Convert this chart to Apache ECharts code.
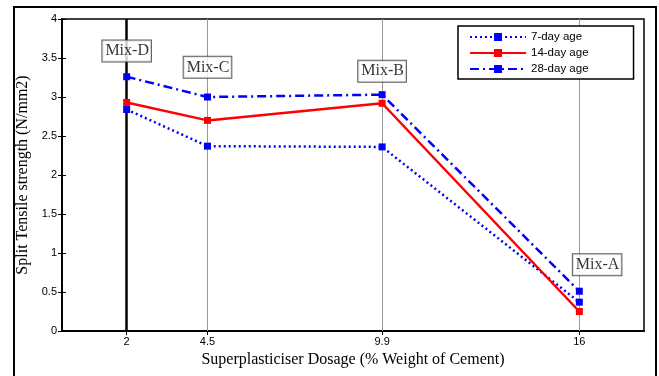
<!DOCTYPE html>
<html><head><meta charset="utf-8">
<script src="https://cdn.jsdelivr.net/npm/echarts@6/dist/echarts.min.js"></script>
<style>html,body{margin:0;padding:0;background:#fff}#c{width:659px;height:376px}</style>
</head><body><div id="c"></div>
<script>
const dosage = [2, 4.5, 9.9, 16];
const day7 = [2.84, 2.37, 2.36, 0.37];
const day14 = [2.93, 2.70, 2.92, 0.25];
const day28 = [3.26, 3.00, 3.03, 0.51];
const seriesNames = ['7-day age', '14-day age', '28-day age'];
const mixLabels = ['Mix-D', 'Mix-C', 'Mix-B', 'Mix-A'];
const mixLabelX = [2, 4.5, 9.9, 16.55];
const mixLabelY = [3.59, 3.38, 3.33, 0.85];

const chart = echarts.init(document.getElementById('c'));
const pair = (xs, ys) => xs.map((x, i) => [x, ys[i]]);
const serifFont = '"Liberation Serif", "DejaVu Serif", serif';
const sansFont = '"Liberation Sans", Arial, sans-serif';

chart.setOption({
  animation: false,
  backgroundColor: '#fff',
  graphic: [{
    type: 'rect', shape: {x: 14, y: 7, width: 642, height: 380},
    style: {fill: 'none', stroke: '#000', lineWidth: 2}, silent: true, z: 100
  }],
  grid: {left: 62, top: 19, right: 15, bottom: 45, show: true, borderColor: '#000', borderWidth: 1.5},
  legend: {
    data: seriesNames, orient: 'vertical', left: 458, top: 26,
    backgroundColor: '#fff', borderColor: '#000', borderWidth: 1.5,
    padding: [5, 45, 4, 11], itemGap: 4, itemWidth: 56, itemHeight: 10,
    textStyle: {fontFamily: sansFont, fontSize: 11.5, color: '#000'}
  },
  xAxis: [{
    type: 'value', min: 0, max: 18, position: 'bottom',
    name: 'Superplasticiser Dosage (% Weight of Cement)', nameLocation: 'middle', nameGap: 17,
    nameTextStyle: {fontFamily: serifFont, fontSize: 16, color: '#000'},
    axisLine: {show: true, onZero: false, lineStyle: {color: '#000', width: 1.5}},
    axisTick: {show: true, inside: true, length: 4, customValues: dosage, lineStyle: {color: '#000'}},
    axisLabel: {customValues: dosage, fontFamily: sansFont, fontSize: 11, color: '#000', margin: 5},
    splitLine: {show: false}
  }, {
    type: 'value', min: 0, max: 18, position: 'top',
    axisLine: {show: true, lineStyle: {color: '#000', width: 1.5}},
    axisTick: {show: true, inside: true, length: 4, customValues: dosage, lineStyle: {color: '#000'}},
    axisLabel: {show: false}, splitLine: {show: false}
  }],
  yAxis: [{
    type: 'value', min: 0, max: 4, interval: 0.5, position: 'left',
    name: 'Split Tensile strength (N/mm2)', nameLocation: 'middle', nameGap: 21,
    nameTextStyle: {fontFamily: serifFont, fontSize: 16, color: '#000'},
    axisLine: {show: true, lineStyle: {color: '#000', width: 1.5}},
    axisTick: {show: true, inside: true, length: 4, lineStyle: {color: '#000'}},
    axisLabel: {fontFamily: sansFont, fontSize: 11, color: '#000', margin: 5},
    splitLine: {show: false}
  }, {
    type: 'value', min: 0, max: 4, interval: 0.5, position: 'right',
    axisLine: {show: true, lineStyle: {color: '#000', width: 1.5}},
    axisTick: {show: true, inside: true, length: 4, lineStyle: {color: '#000'}},
    axisLabel: {show: false}, splitLine: {show: false}
  }],
  series: [
    {
      name: '7-day age', type: 'line', data: pair(dosage, day7), z: 5,
      symbol: 'rect', symbolSize: 7, color: '#0000ff',
      itemStyle: {color: '#0000ff'},
      lineStyle: {color: '#0000ff', width: 2.5, type: [2, 3]},
      markLine: {
        silent: true, symbol: 'none', label: {show: false},
        data: dosage.map((d, i) => ({xAxis: d, lineStyle: i === 0 ? {color: '#000', width: 2.5, type: 'solid'} : {color: '#999', width: 1, type: 'solid'}})),
        z: 1
      }
    },
    {
      name: '14-day age', type: 'line', data: pair(dosage, day14), z: 6,
      symbol: 'rect', symbolSize: 7, color: '#ff0000',
      itemStyle: {color: '#ff0000'},
      lineStyle: {color: '#ff0000', width: 2.5, type: 'solid'}
    },
    {
      name: '28-day age', type: 'line', data: pair(dosage, day28), z: 7,
      symbol: 'rect', symbolSize: 7, color: '#0000ff',
      itemStyle: {color: '#0000ff'},
      lineStyle: {color: '#0000ff', width: 2.5, type: [9, 4, 2, 4]}
    },
    {
      name: 'labels', type: 'scatter', symbolSize: 0, z: 8,
      data: mixLabels.map((t, i) => ({value: [mixLabelX[i], mixLabelY[i]], name: t})),
      label: {
        show: true, position: 'inside', formatter: p => p.name,
        fontFamily: serifFont, fontSize: 16, color: '#000',
        backgroundColor: '#fff', borderColor: '#333', borderWidth: 1, padding: [3, 2, 2, 3]
      }
    }
  ]
});
</script></body></html>
